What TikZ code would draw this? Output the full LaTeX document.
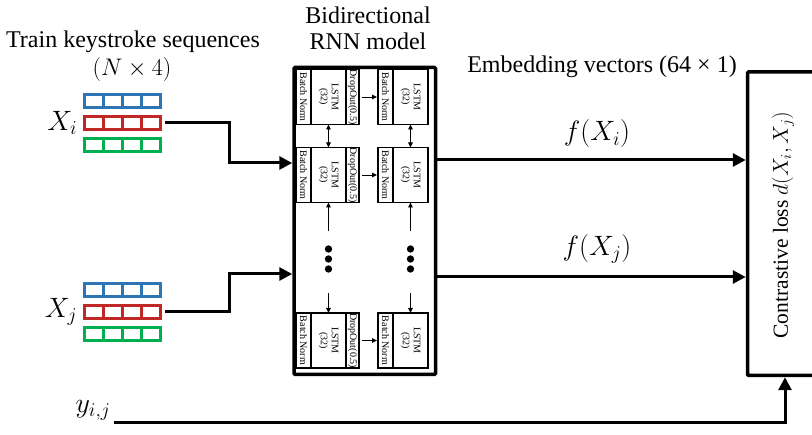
\RequirePackage{fix-cm}
\documentclass[tikz,border=0pt]{standalone}
\usepackage{fontspec}
\setmainfont{Liberation Serif}
\usepackage{amsmath}
\usepackage{graphicx}
\usetikzlibrary{arrows.meta, positioning, calc}

\definecolor{rowblue}{RGB}{46,117,182}
\definecolor{rowred}{RGB}{192,40,40}
\definecolor{rowgreen}{RGB}{0,176,80}

% one row of a keystroke matrix: x, y (top), colour
\newcommand{\keyrow}[3]{%
  \draw[#3, line width=3pt] (#1,#2+1.5) -- ++(79,0) (#1,#2+14.5) -- ++(79,0);
  \foreach \k in {0,...,4} \draw[#3, line width=3pt] (#1+1.5+19*\k,#2+1.5) -- ++(0,13);
}
\newcommand{\keymatrix}[2]{%
  \keyrow{#1}{#2}{rowblue}
  \keyrow{#1}{#2+22}{rowred}
  \keyrow{#1}{#2+44}{rowgreen}
}
\newcommand{\lstmtext}{\rotatebox{-90}{\begin{tabular}{@{}c@{}}LSTM\\(32)\end{tabular}}}

\begin{document}
\begin{tikzpicture}[x=1pt, y=-1pt,
        every node/.style = {font=\fontsize{24}{26}\selectfont},
        mathlabel/.style = {font=\fontsize{28}{32}\selectfont},
        flow/.style = {line width=3pt, -{Triangle[length=13pt, width=13pt]}},
        inner/.style = {line width=0.9pt, -{Triangle[length=5pt, width=4.5pt]}},
        part/.style = {draw, line width=1.5pt, inner sep=0pt, outer sep=0pt, minimum height=55pt, font=\fontsize{10}{11}\selectfont},
        dot/.style = {circle, fill=black, inner sep=2.6pt},
        bigbox/.style = {draw, line width=3.5pt, rounded corners=1pt}]
        \useasboundingbox (0,0) rectangle (812,435);

        % inputs
        \keymatrix{83}{93}
        \node[minimum width=79pt, minimum height=60pt, inner sep=0pt] (Mi) at (122.5,123) {};
        \node[left = 2pt of Mi, font=\fontsize{28}{30}\selectfont] (Xi) {$X_i$};

        \keymatrix{83}{282}
        \node[minimum width=79pt, minimum height=60pt, inner sep=0pt] (Mj) at (122.5,312) {};
        \node[left = 2pt of Mj, font=\fontsize{28}{30}\selectfont] (Xj) {$X_j$};

        \node (train) at (133,42) {Train keystroke sequences};
        \node (shape) at (132,70) {$(N\times 4)$};

        \node[mathlabel] (yij) at (93,410) {$y_{i,j}$};

        % RNN model
        \node[align=center] (title) at (368,28) {Bidirectional\\RNN model};
        \node[bigbox, minimum width=141.5pt, minimum height=307pt] (rnn) at (364.75,221) {};

        \node[part, minimum width=15pt] (BnA1) at (303.5,97) {\rotatebox{-90}{Batch Norm}};
        \node[part, minimum width=35pt, right = 0pt of BnA1] (LsA1) {\lstmtext};
        \node[part, minimum width=13pt, right = 0pt of LsA1] (DoA) {\rotatebox{-90}{DropOut(0.5)}};
        \node[part, minimum width=15pt] (BnA2) at (385.5,97) {\rotatebox{-90}{Batch Norm}};
        \node[part, minimum width=35pt, right = 0pt of BnA2] (LsA2) {\lstmtext};

        \node[part, minimum width=15pt] (BnB1) at (303.5,175) {\rotatebox{-90}{Batch Norm}};
        \node[part, minimum width=35pt, right = 0pt of BnB1] (LsB1) {\lstmtext};
        \node[part, minimum width=13pt, right = 0pt of LsB1] (DoB) {\rotatebox{-90}{DropOut(0.5)}};
        \node[part, minimum width=15pt] (BnB2) at (385.5,175) {\rotatebox{-90}{Batch Norm}};
        \node[part, minimum width=35pt, right = 0pt of BnB2] (LsB2) {\lstmtext};

        \node[part, minimum width=15pt] (BnC1) at (303.5,340.5) {\rotatebox{-90}{Batch Norm}};
        \node[part, minimum width=35pt, right = 0pt of BnC1] (LsC1) {\lstmtext};
        \node[part, minimum width=13pt, right = 0pt of LsC1] (DoC) {\rotatebox{-90}{DropOut(0.5)}};
        \node[part, minimum width=15pt] (BnC2) at (385.5,340.5) {\rotatebox{-90}{Batch Norm}};
        \node[part, minimum width=35pt, right = 0pt of BnC2] (LsC2) {\lstmtext};

        \node[dot] (Da1) at (328.5,249) {};
        \node[dot] (Db1) at (328.5,259) {};
        \node[dot] (Dc1) at (328.5,269) {};
        \node[dot] (Da2) at (410.5,249) {};
        \node[dot] (Db2) at (410.5,259) {};
        \node[dot] (Dc2) at (410.5,269) {};

        \draw[inner, shorten <=3pt, shorten >=1pt] (DoA) -- (BnA2);
        \draw[inner, shorten <=3pt, shorten >=1pt] (DoB) -- (BnB2);
        \draw[inner, shorten <=3pt, shorten >=1pt] (DoC) -- (BnC2);
        \draw[inner, {Triangle[length=5pt, width=4.5pt]}-{Triangle[length=5pt, width=4.5pt]}] (LsA1) -- (LsB1);
        \draw[inner, {Triangle[length=5pt, width=4.5pt]}-{Triangle[length=5pt, width=4.5pt]}] (LsA2) -- (LsB2);
        \draw[inner] ([yshift=14pt]Da1.north) -- (LsB1);
        \draw[inner] ([yshift=14pt]Da2.north) -- (LsB2);
        \draw[inner] ([yshift=-20pt]Dc1.south) -- (LsC1);
        \draw[inner] ([yshift=-20pt]Dc2.south) -- (LsC2);

        % loss
        \node[bigbox, minimum width=75pt, minimum height=303.5pt] (loss) at (785,223.75) {};
        \node[rotate=90, font=\fontsize{21.5}{24}\selectfont] (losstext) at (783,225) {Contrastive loss $d(X_i,X_j)$};
        \node (emb) at (602,67) {Embedding vectors (64 × 1)};
        \node[mathlabel] (fi) at (597,134) {$f(X_i)$};
        \node[mathlabel] (fj) at (597,249) {$f(X_j)$};

        \draw[flow] ([xshift=3pt]Mi.east) -- ++(64,0) |- (rnn.west |- 0,163);
        \draw[flow] ([xshift=3pt]Mj.east) -- ++(64,0) |- (rnn.west |- 0,274);
        \draw[flow] (rnn.east |- 0,160) -- (loss.west |- 0,160);
        \draw[flow] (rnn.east |- 0,277) -- (loss.west |- 0,277);
        \draw[flow] ([yshift=-13pt]yij.east) -| (loss.south);
    \end{tikzpicture}
\end{document}
